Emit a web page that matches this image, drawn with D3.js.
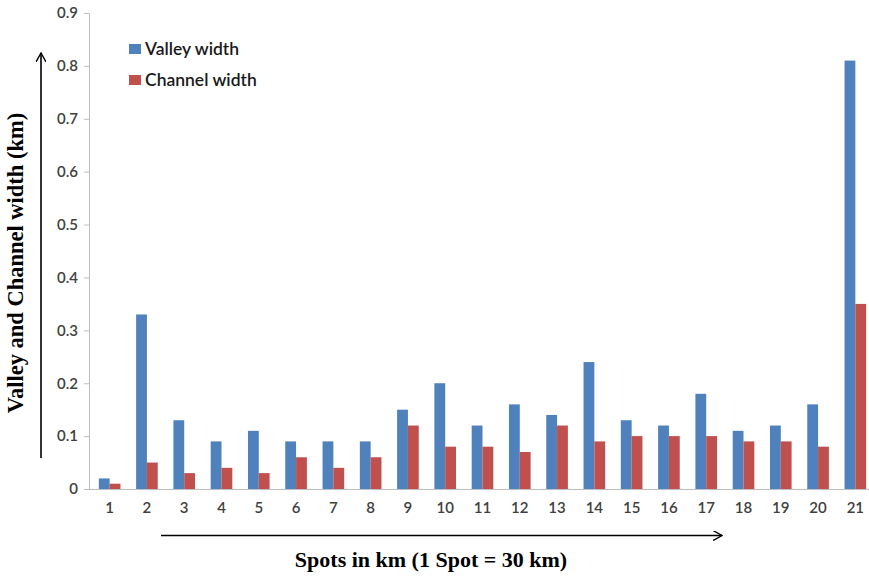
<!DOCTYPE html>
<html>
<head>
<meta charset="utf-8">
<script src="https://cdn.jsdelivr.net/npm/d3@7"></script>
<style>
  html, body { margin: 0; padding: 0; background: #fff; }
  svg { display: block; }
</style>
</head>
<body>
<svg id="chart" width="869" height="577"></svg>
<script>
// Spot numbers along the river (1 spot = 30 km)
const spots = ["1","2","3","4","5","6","7","8","9","10","11","12","13","14","15","16","17","18","19","20","21"];
// Widths in km
const valleyWidth  = [0.02,0.33,0.13,0.09,0.11,0.09,0.09,0.09,0.15,0.20,0.12,0.16,0.14,0.24,0.13,0.12,0.18,0.11,0.12,0.16,0.81];
const channelWidth = [0.01,0.05,0.03,0.04,0.03,0.06,0.04,0.06,0.12,0.08,0.08,0.07,0.12,0.09,0.10,0.10,0.10,0.09,0.09,0.08,0.35];
const seriesNames  = ["Valley width", "Channel width"];
const seriesColors = ["#4f81bd", "#c0504d"];
const yTicks = [0, 0.1, 0.2, 0.3, 0.4, 0.5, 0.6, 0.7, 0.8, 0.9];

const svg = d3.select("#chart");
const labelFont = "Lato, 'Open Sans', sans-serif";
const titleFont = "'Liberation Serif', 'Times New Roman', serif";

const x0 = d3.scaleBand().domain(spots).range([91, 874]).paddingInner(0.42).paddingOuter(0.21);
const x1 = d3.scaleBand().domain(seriesNames).range([0, x0.bandwidth()]);
const y = d3.scaleLinear().domain([0, 0.9]).range([489, 13]);

// Y axis
const yAxis = svg.append("g").attr("transform", "translate(89,0)")
  .call(d3.axisLeft(y).tickValues(yTicks).tickSize(5).tickPadding(6)
    .tickFormat(d => d === 0 ? "0" : d3.format(".1f")(d)));
yAxis.select(".domain").attr("stroke", "#bfbfbf");
yAxis.selectAll(".tick line").attr("stroke", "#bfbfbf");
yAxis.selectAll(".tick text").attr("font-family", labelFont).attr("font-size", 15)
  .attr("font-weight", 600).attr("fill", "#404040");

// Bars
const rows = spots.map((s, i) => ({ spot: s, vals: [valleyWidth[i], channelWidth[i]] }));
const groups = svg.append("g").selectAll("g").data(rows).join("g")
  .attr("transform", d => `translate(${x0(d.spot)},0)`);
groups.selectAll("rect").data(d => d.vals.map((v, k) => ({ key: seriesNames[k], v, k })))
  .join("rect")
  .attr("x", d => x1(d.key))
  .attr("y", d => y(d.v))
  .attr("width", x1.bandwidth())
  .attr("height", d => y(0) - y(d.v))
  .attr("fill", d => seriesColors[d.k]);

// X axis
const xAxis = svg.append("g").attr("transform", "translate(0,489)")
  .call(d3.axisBottom(x0).tickSize(0).tickPadding(13));
xAxis.select(".domain").attr("stroke", "#bfbfbf").attr("d", "M89,0.5H869");
xAxis.selectAll(".tick text").attr("font-family", labelFont).attr("font-size", 15)
  .attr("font-weight", 600).attr("fill", "#404040");

// Legend
const legend = svg.append("g");
seriesNames.forEach((name, i) => {
  const gy = 44 + i * 31;
  legend.append("rect").attr("x", 129).attr("y", gy).attr("width", 12).attr("height", 10)
    .attr("fill", seriesColors[i]);
  legend.append("text").attr("x", 145).attr("y", gy + 10.5)
    .attr("font-family", labelFont).attr("font-size", 17.5).attr("font-weight", 600)
    .attr("fill", "#1a1a1a").text(name);
});

// Arrow marker
svg.append("defs").append("marker")
  .attr("id", "arrow").attr("viewBox", "0 0 10 10").attr("refX", 9).attr("refY", 5)
  .attr("markerWidth", 10).attr("markerHeight", 10).attr("markerUnits", "userSpaceOnUse")
  .attr("orient", "auto")
  .append("path").attr("d", "M0,0 L9,5 L0,10").attr("fill", "none").attr("stroke", "#000").attr("stroke-width", 1.4);

svg.append("line").attr("x1", 41).attr("y1", 458).attr("x2", 41).attr("y2", 53)
  .attr("stroke", "#000").attr("stroke-width", 1.6).attr("marker-end", "url(#arrow)");
svg.append("line").attr("x1", 161).attr("y1", 535.5).attr("x2", 722).attr("y2", 535.5)
  .attr("stroke", "#000").attr("stroke-width", 1.6).attr("marker-end", "url(#arrow)");

// Axis titles
svg.append("text").attr("transform", "translate(23,263) rotate(-90)")
  .attr("text-anchor", "middle").attr("font-family", titleFont).attr("font-size", 22.5)
  .attr("font-weight", "bold").attr("fill", "#000").text("Valley and Channel width (km)");
svg.append("text").attr("x", 431).attr("y", 567)
  .attr("text-anchor", "middle").attr("font-family", titleFont).attr("font-size", 22)
  .attr("font-weight", "bold").attr("fill", "#000").text("Spots in km (1 Spot = 30 km)");
</script>
</body>
</html>
